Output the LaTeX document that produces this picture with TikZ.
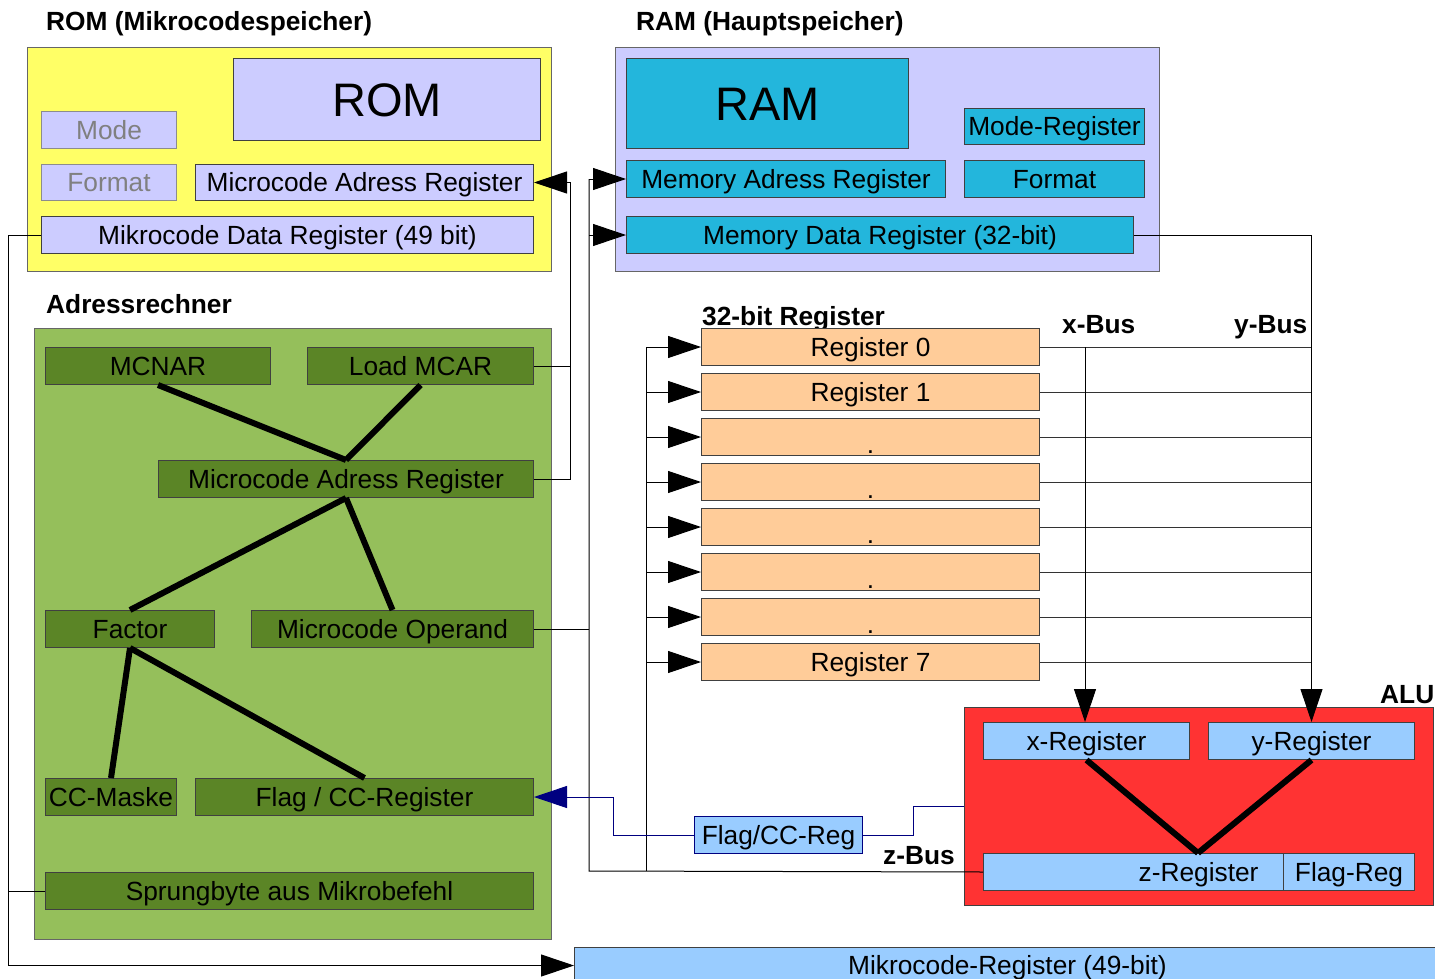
\documentclass[tikz,border=0pt]{standalone}
\usepackage{fontspec}
\setmainfont{Liberation Sans}
\usetikzlibrary{arrows.meta,calc}
\definecolor{romyellow}{HTML}{FFFF66}
\definecolor{lav}{HTML}{CCCCFF}
\definecolor{ramcyan}{HTML}{23B6DC}
\definecolor{lgreen}{HTML}{95BF5B}
\definecolor{dgreen}{HTML}{5B8526}
\definecolor{peach}{HTML}{FFCC99}
\definecolor{lblue}{HTML}{99CCFF}
\definecolor{alured}{HTML}{FF3333}
\definecolor{navyc}{HTML}{000080}
\begin{document}
\begin{tikzpicture}[x=1pt,y=-1pt,
  bxc/.style args={#1/#2/#3/#4}{anchor=north west, at={(#1,#2)}, minimum width={#3-#1}, minimum height={#4-#2}},
  every node/.style={font=\fontsize{26.3}{30}\selectfont, inner sep=0pt, text height=18.8pt, text depth=0pt},
  cont/.style={draw=black!60, line width=1pt},
  bx/.style={draw=black!75, line width=1pt},
  head/.style={font=\bfseries\fontsize{26.3}{30}\selectfont, anchor=base west},
  big/.style={font=\fontsize{47}{54}\selectfont, text height=33.6pt},
  conn/.style={line width=1pt, draw=black},
  arr/.style={conn, -{Triangle[length=33pt,width=22pt]}},
  navyarr/.style={line width=1pt, draw=navyc, -{Triangle[length=33pt,width=22pt]}},
  thk/.style={line width=6pt, draw=black}]
\useasboundingbox (0,0) rectangle (1435,979);

% headings
\node[head] (hrom) at (46,31) {ROM (Mikrocodespeicher)};
\node[head] (hram) at (636,31) {RAM (Hauptspeicher)};
\node[head] (hadr) at (46,313) {Adressrechner};
\node[head] (hreg) at (702,325) {32-bit Register};
\node[head] (hxb) at (1062,333) {x-Bus};
\node[head] (hyb) at (1234,333) {y-Bus};
\node[head] (halu) at (1380,703) {ALU};
\node[head] (hzb) at (883,864) {z-Bus};

% ROM
\node[cont, fill=romyellow, bxc=27/47/551/271] (romc) {};
\node[bx, fill=lav, big, bxc=233/58/540/140] (rom) {ROM};
\node[bx, draw=black!45, fill=lav, text=black!50, bxc=41/111/176/148] (mode) {Mode};
\node[bx, draw=black!45, fill=lav, text=black!50, bxc=41/164/176/200] (fmt) {Format};
\node[bx, fill=lav, bxc=195/164/533/200] (rommar) {Microcode Adress Register};
\node[bx, fill=lav, bxc=41/216/533/253] (rommdr) {Mikrocode Data Register (49 bit)};

% RAM
\node[cont, fill=lav, bxc=615/47/1159/271] (ramc) {};
\node[bx, fill=ramcyan, big, bxc=626/58/908/148] (ram) {RAM};
\node[bx, fill=ramcyan, bxc=964/108/1144/144] (mreg) {Mode-Register};
\node[bx, fill=ramcyan, bxc=626/160/945/197] (rmar) {Memory Adress Register};
\node[bx, fill=ramcyan, bxc=964/160/1144/197] (rfmt) {Format};
\node[bx, fill=ramcyan, bxc=626/216/1133/253] (rmdr) {Memory Data Register (32-bit)};

% Adressrechner
\node[cont, fill=lgreen, bxc=34/328/551/939] (adr) {};
\node[bx, fill=dgreen, bxc=45/347/270/384] (mcnar) {MCNAR};
\node[bx, fill=dgreen, bxc=307/347/533/384] (lmcar) {Load MCAR};
\node[bx, fill=dgreen, bxc=158/460/533/497] (gmar) {Microcode Adress Register};
\node[bx, fill=dgreen, bxc=45/610/214/647] (factor) {Factor};
\node[bx, fill=dgreen, bxc=251/610/533/647] (mop) {Microcode Operand};
\node[bx, fill=dgreen, bxc=45/778/176/815] (ccm) {CC-Maske};
\node[bx, fill=dgreen, bxc=195/778/533/815] (fccr) {Flag / CC-Register};
\node[bx, fill=dgreen, bxc=45/872/533/909] (spr) {Sprungbyte aus Mikrobefehl};

\draw[thk] (mcnar.south) -- (gmar.north);
\draw[thk] (lmcar.south) -- (gmar.north);
\draw[thk] (gmar.south) -- (factor.north);
\draw[thk] (gmar.south) -- (mop.north);
\draw[thk] (factor.south) -- (ccm.north);
\draw[thk] (factor.south) -- (fccr.north);

% registers
\foreach \i/\txt/\yy in {0/Register 0/328, 1/Register 1/373, 7/Register 7/643}
  \node[bx, fill=peach, bxc=701/\yy/1039/\yy+37] (r\i) {\txt};
\foreach \i/\yy in {2/418, 3/463, 4/508, 5/553, 6/598}
  \node[bx, fill=peach, bxc=701/\yy/1039/\yy+37, text height=32pt] (r\i) {.};

% ALU
\node[cont, draw=black!75, fill=alured, bxc=964/707/1433/905] (alu) {};
\node[bx, fill=lblue, bxc=983/722/1189/759] (xreg) {x-Register};
\node[bx, fill=lblue, bxc=1208/722/1414/759] (yreg) {y-Register};
\node[bx, fill=lblue, bxc=983/853/1283/890, text width=250pt, inner xsep=25pt, align=right] (zreg) {z-Register};
\node[bx, fill=lblue, bxc=1283/853/1414/890] (flreg) {Flag-Reg};
\coordinate (zj) at (1198,853);
\draw[thk] (xreg.south) -- (zj);
\draw[thk] (yreg.south) -- (zj);

% Flag/CC-Reg
\node[draw=navyc, line width=1pt, fill=lblue, bxc=694/816/862/853] (fcc) {Flag/CC-Reg};

% bottom register
\node[bx, fill=lblue, bxc=574/947/1440/983] (mcr) {Mikrocode-Register (49-bit)};

% coordinates for bus verticals
\coordinate (v8) at (8,0);
\coordinate (v570) at (570,0);
\coordinate (v589) at (589,871);
\coordinate (v646) at (646,871);
\coordinate (aluin) at (964,806);

% ROM data register to Mikrocode-Register
\draw[arr] (rommdr.west) -- (rommdr.west -| v8) |- (mcr.west);
\draw[conn] (spr.west) -- (spr.west -| v8);

% address path to ROM MAR
\draw[conn] (lmcar.east) -- (lmcar.east -| v570);
\draw[arr] (gmar.east) -| (v570 |- rommar.east) -- (rommar.east);

% operand / z-bus path to RAM
\draw[conn] (zreg.west) -- (v589) -- (v589 |- rmar.west);
\draw[arr] (v589 |- rmar.west) -- (rmar.west);
\draw[arr] (v589 |- rmdr.west) -- (rmdr.west);
\draw[conn] (mop.east) -- (mop.east -| v589);

% register input bus
\draw[conn] (r0.west -| v646) -- (v646);
\foreach \i in {0,...,7}
  \draw[arr] (r\i.west -| v646) -- (r\i.west);

% register outputs to buses
\foreach \i in {0,...,7}
  \draw[conn, draw=black!80] (r\i.east) -- (r\i.east -| yreg.north);
\draw[arr] (rmdr.east) -| (yreg.north);
\draw[arr] (r0.east -| 1085,0) -- (1085,722);

% flag path
\draw[navyarr] (fcc.west) -- ++(-81,0) |- (fccr.east);
\draw[line width=1pt, draw=navyc] (fcc.east) -- ++(50,0) |- (aluin);
\end{tikzpicture}
\end{document}
